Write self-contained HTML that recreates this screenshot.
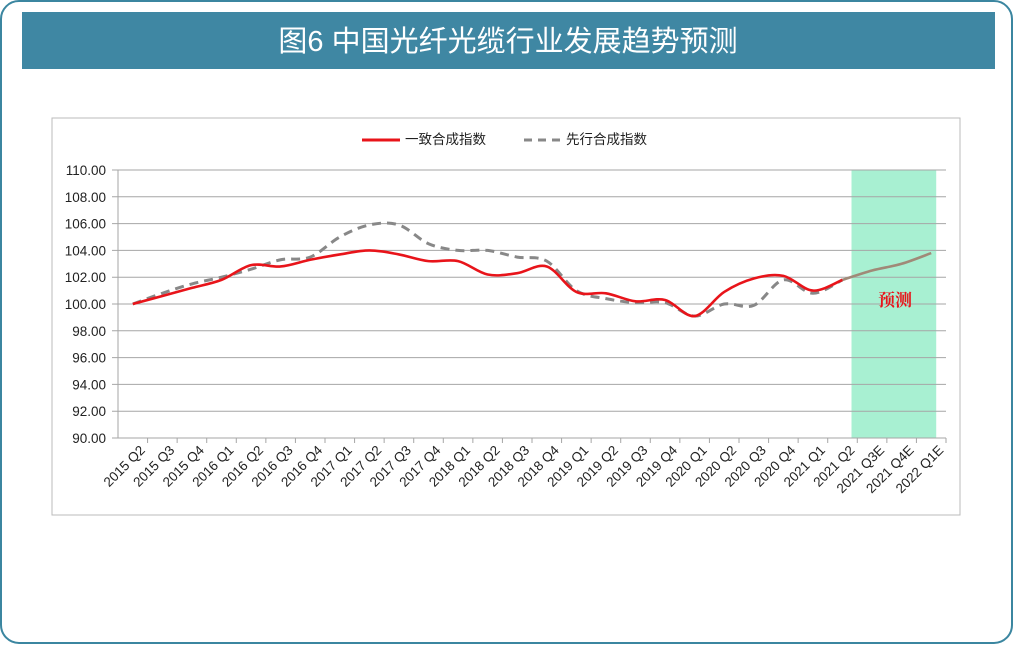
<!DOCTYPE html>
<html><head><meta charset="utf-8"><style>
body{margin:0;width:1013px;height:644px;background:#fff;overflow:hidden;font-family:"Liberation Sans","Noto Sans CJK SC",sans-serif}
</style></head><body>
<svg width="1013" height="644" xmlns="http://www.w3.org/2000/svg">
<rect x="1" y="1" width="1011" height="642" rx="18" fill="#fff" stroke="#3b86a0" stroke-width="2"/>
<rect x="22" y="12" width="973" height="57" fill="#3f87a3"/>
<text x="508" y="51" text-anchor="middle" fill="#fff" font-size="29" font-family="Liberation Sans,Noto Sans CJK SC,sans-serif">图6  中国光纤光缆行业发展趋势预测</text>
<rect x="52" y="118" width="908" height="397" fill="#fff" stroke="#bbb"/>
<g id="plot"></g>
</svg>
<script>
const categories=["2015 Q2","2015 Q3","2015 Q4","2016 Q1","2016 Q2","2016 Q3","2016 Q4","2017 Q1","2017 Q2","2017 Q3","2017 Q4","2018 Q1","2018 Q2","2018 Q3","2018 Q4","2019 Q1","2019 Q2","2019 Q3","2019 Q4","2020 Q1","2020 Q2","2020 Q3","2020 Q4","2021 Q1","2021 Q2","2021 Q3E","2021 Q4E","2022 Q1E"];
const coincident=[100.0,100.6,101.2,101.8,102.9,102.8,103.3,103.7,104.0,103.7,103.2,103.2,102.2,102.3,102.8,100.9,100.8,100.2,100.3,99.1,100.9,101.9,102.1,101.0,101.8];
const forecast=[101.8,102.5,103.0,103.8];
const leading=[100.0,100.8,101.5,102.0,102.6,103.3,103.5,105.0,105.9,105.9,104.5,104.0,104.0,103.5,103.2,101.0,100.4,100.1,100.1,99.1,100.0,99.9,101.8,100.8,101.8];
const yTicks=[90,92,94,96,98,100,102,104,106,108,110];
const NS="http://www.w3.org/2000/svg";
const g=document.getElementById('plot');
const L=118,R=946,T=170,B=438,yMin=90,yMax=110;
const band=(R-L)/categories.length;
const xs=i=>L+band*(i+0.5);
const ys=v=>B-(v-yMin)/(yMax-yMin)*(B-T);
function el(t,a){const e=document.createElementNS(NS,t);for(const k in a)e.setAttribute(k,a[k]);g.appendChild(e);return e;}
const fb=el('rect',{x:xs(24)+9,y:T,width:xs(27)-xs(24)-4,height:B-T,fill:'#a8f0d2'});


yTicks.forEach(v=>{
 const ln=el('line',{x1:L-6,x2:R,y1:ys(v),y2:ys(v),stroke:'#a6a6a6','stroke-width':1});
 
 
 const t=el('text',{x:L-12,y:ys(v)+5,'text-anchor':'end','font-size':13.5,fill:'#222'});
 t.textContent=v.toFixed(2);
 
 
});
const ax=el('line',{x1:L,x2:L,y1:T,y2:B,stroke:'#a6a6a6'});


categories.forEach((c,i)=>{
 const tk=el('line',{x1:L+band*(i+1),x2:L+band*(i+1),y1:B,y2:B+5,stroke:'#a6a6a6'});
 
 
 const x=xs(i)+13,y=B+13;
 const t=el('text',{x:x,y:y,'text-anchor':'end','font-size':13.5,fill:'#222',transform:`rotate(-45 ${x} ${y})`});
 t.textContent=c;
 
 
});
function path(vals,off){
 const p=vals.map((v,i)=>[xs(i+off),ys(v)]);
 let d=`M${p[0][0]},${p[0][1]}`;
 for(let i=0;i<p.length-1;i++){
  const p0=p[i-1]||p[i],p1=p[i],p2=p[i+1],p3=p[i+2]||p2;
  d+=` C${p1[0]+(p2[0]-p0[0])/6},${p1[1]+(p2[1]-p0[1])/6} ${p2[0]-(p3[0]-p1[0])/6},${p2[1]-(p3[1]-p1[1])/6} ${p2[0]},${p2[1]}`;
 }
 return d;
}
const lp=el('path',{d:path(leading,0),fill:'none',stroke:'#888','stroke-width':3,'stroke-dasharray':'9 6'});


const cp=el('path',{d:path(coincident,0),fill:'none',stroke:'#e8141a','stroke-width':2.6});


const fp=el('path',{d:path(forecast,24),fill:'none',stroke:'#a08a78','stroke-width':2.6});


const ft=el('text',{x:895,y:306,'text-anchor':'middle','font-size':17,'font-weight':'bold',fill:'#e8141a','font-family':'Noto Serif CJK SC,serif'});
ft.textContent='预测';


const l1=el('line',{x1:362,x2:400,y1:140,y2:140,stroke:'#e8141a','stroke-width':3});


const t1=el('text',{x:405,y:144,'font-size':13.5,fill:'#222'});
t1.textContent='一致合成指数';


const l2=el('line',{x1:524,x2:560,y1:140,y2:140,stroke:'#888','stroke-width':3,'stroke-dasharray':'8 6'});


const t2=el('text',{x:566,y:144,'font-size':13.5,fill:'#222'});
t2.textContent='先行合成指数';


</script>
</body></html>
